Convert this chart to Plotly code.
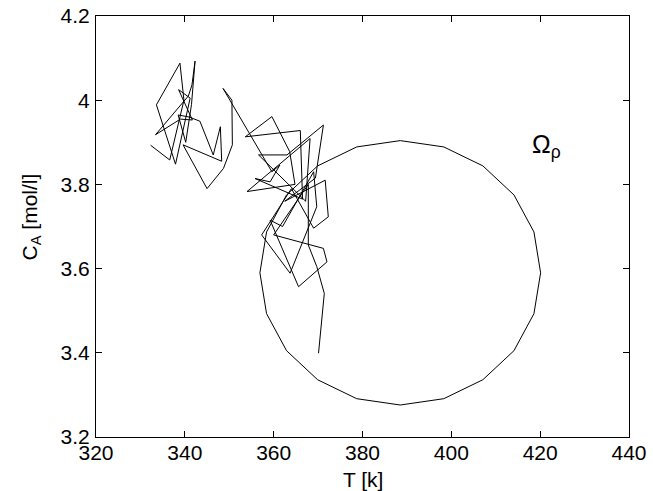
import plotly.graph_objects as go

# Trajectory (T [K], C_A [mol/l])
traj_T = [332.3, 336.6, 339.8, 338.9, 333.6, 335.4, 337.9, 341.2, 338.6, 341.7,
          339.0, 333.4, 340.8, 341.6, 342.3, 341.5, 340.2, 338.5, 341.0, 343.4,
          346.4, 348.0, 348.3, 339.6, 345.0, 348.7, 350.7, 350.6, 348.6,
          359.6, 361.4, 359.2, 355.8, 366.5, 366.0, 353.6, 359.6, 363.6, 364.8,
          354.0, 368.2, 367.2, 356.6, 363.0, 371.2, 369.4, 362.5, 371.6, 372.3,
          369.0, 364.0, 357.3, 363.7, 369.7, 369.0, 362.0, 359.2, 365.6, 372.0,
          371.2, 360.0, 367.8, 367.8, 369.7, 371.4, 370.1]
traj_CA = [3.893, 3.858, 4.000, 4.088, 3.989, 3.930, 3.848, 4.005, 4.025, 3.953,
           3.955, 3.918, 4.010, 4.036, 4.093, 3.990, 3.900, 3.965, 3.960, 3.950,
           3.870, 3.937, 3.855, 3.894, 3.790, 3.838, 3.894, 4.000, 4.028,
           3.830, 3.846, 3.806, 3.814, 3.765, 3.928, 3.913, 3.961, 3.878, 3.800,
           3.783, 3.909, 3.760, 3.870, 3.870, 3.941, 3.815, 3.760, 3.810, 3.723,
           3.696, 3.790, 3.680, 3.589, 3.747, 3.830, 3.700, 3.715, 3.557, 3.616,
           3.648, 3.680, 3.800, 3.656, 3.605, 3.541, 3.399]

# Region boundary Omega_rho (polygon vertices)
omega_T = [420.1, 418.6, 414.1, 407.1, 398.3, 388.5, 378.7, 369.9, 362.9, 358.4,
           356.9, 358.4, 362.9, 369.9, 378.7, 388.5, 398.3, 407.1, 414.1, 418.6, 420.1]
omega_CA = [3.590, 3.687, 3.775, 3.844, 3.889, 3.904, 3.889, 3.844, 3.775, 3.687,
            3.590, 3.493, 3.405, 3.336, 3.291, 3.276, 3.291, 3.336, 3.405, 3.493, 3.590]

x_ticks = [320, 340, 360, 380, 400, 420, 440]
y_ticks = [3.2, 3.4, 3.6, 3.8, 4.0, 4.2]
y_tick_text = ["3.2", "3.4", "3.6", "3.8", "4", "4.2"]

FONT = "Liberation Sans, Arial"

fig = go.Figure()
fig.add_trace(go.Scatter(x=omega_T, y=omega_CA, mode="lines",
                         line=dict(color="black", width=1), showlegend=False))
fig.add_trace(go.Scatter(x=traj_T, y=traj_CA, mode="lines",
                         line=dict(color="black", width=1), showlegend=False))

# region label
fig.add_annotation(x=417.6, y=3.892, xref="x", yref="y", xanchor="left", yanchor="middle",
                   text="Ω<sub>ρ</sub>", showarrow=False,
                   font=dict(family=FONT, size=25, color="black"))
# axis titles
fig.add_annotation(x=0.5, y=0, xref="paper", yref="paper", xanchor="center", yanchor="middle",
                   yshift=-42, text="T [k]", showarrow=False,
                   font=dict(family=FONT, size=21, color="black"))
fig.add_annotation(x=0, y=0.5, xref="paper", yref="paper", xanchor="center", yanchor="middle",
                   xshift=-66, yshift=9, textangle=-90, text="C<sub>A</sub> [mol/l]",
                   showarrow=False, font=dict(family=FONT, size=21, color="black"))

axis_common = dict(showgrid=False, zeroline=False, showline=True, linecolor="black",
                   linewidth=1, mirror="ticks", ticks="inside", ticklen=6,
                   tickcolor="black", tickwidth=1, automargin=False,
                   tickfont=dict(family=FONT, size=21, color="black"))

fig.update_layout(
    width=653, height=491,
    margin=dict(l=96, r=24, t=16, b=54, autoexpand=False),
    paper_bgcolor="white", plot_bgcolor="white",
    font=dict(family=FONT, size=21, color="black"),
    xaxis=dict(range=[320, 440], tickvals=x_ticks, ticktext=[str(v) for v in x_ticks],
               ticklabelstandoff=-3, **axis_common),
    yaxis=dict(range=[3.2, 4.2], tickvals=y_ticks, ticktext=y_tick_text,
               ticklabelstandoff=1, **axis_common),
)

fig.write_html("out.html", config={"displayModeBar": False},
               post_script="document.body.style.margin='0px';")
